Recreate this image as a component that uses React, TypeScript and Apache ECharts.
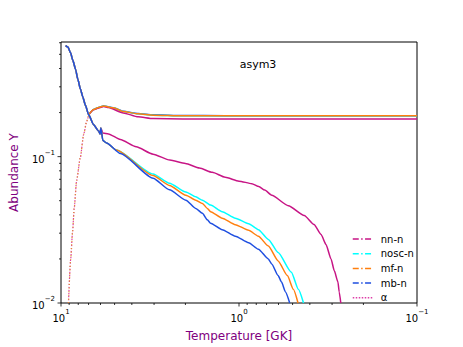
import React, { useEffect, useRef } from 'react';
import * as echarts from 'echarts';

// Temperature [GK] (x) and abundance Y (y) pairs
const neutronShared = [[9.42, 0.573], [9.14, 0.56], [8.835, 0.512], [8.58, 0.455], [8.285, 0.396], [8.05, 0.339], [7.78, 0.29], [7.55, 0.257], [7.29, 0.224], [6.99, 0.193], [6.56, 0.165], [6.15, 0.1495], [6.03, 0.143], [5.97, 0.157]];
const nnNeutronTail = [[5.82, 0.145], [5.41, 0.143], [4.64, 0.131], [3.78, 0.1167], [3.04, 0.104], [2.448, 0.0947], [2.0, 0.0898], [1.668, 0.0835], [1.413, 0.0781], [1.196, 0.0723], [1.0, 0.068], [0.847, 0.0654], [0.774, 0.0624], [0.717, 0.0591], [0.655, 0.0545], [0.528, 0.0462], [0.43, 0.0396], [0.379, 0.0344], [0.346, 0.0294], [0.3245, 0.0251], [0.304, 0.02], [0.2917, 0.01665], [0.278, 0.0139], [0.2736, 0.0119], [0.268, 0.01]];
const noscNeutronTail = [[5.82, 0.129], [5.55, 0.124], [4.89, 0.111], [3.04, 0.0761], [2.458, 0.0659], [1.988, 0.0573], [1.749, 0.0531], [1.605, 0.0504], [1.445, 0.0467], [1.243, 0.0421], [1.049, 0.038], [0.883, 0.0348], [0.778, 0.0317], [0.684, 0.0272], [0.603, 0.0221], [0.508, 0.0162], [0.464, 0.0124], [0.434, 0.01]];
const mfNeutronTail = [[5.82, 0.129], [5.55, 0.124], [4.89, 0.111], [3.04, 0.0742], [2.458, 0.0636], [1.988, 0.0545], [1.749, 0.0504], [1.605, 0.0479], [1.506, 0.0443], [1.445, 0.0421], [1.243, 0.038], [1.049, 0.0343], [0.883, 0.0314], [0.778, 0.0286], [0.684, 0.0245], [0.603, 0.0194], [0.535, 0.0154], [0.495, 0.0124], [0.466, 0.01]];
const mbNeutronTail = [[5.82, 0.129], [5.55, 0.124], [4.64, 0.105], [3.04, 0.0712], [2.458, 0.0594], [1.988, 0.0504], [1.749, 0.0443], [1.605, 0.041], [1.506, 0.037], [1.445, 0.0351], [1.243, 0.0317], [1.049, 0.0286], [0.883, 0.0258], [0.778, 0.0233], [0.684, 0.02], [0.655, 0.01846], [0.603, 0.0154], [0.577, 0.0139], [0.548, 0.0119], [0.519, 0.01]];

const alphaRise = [[9.08, 0.01], [8.82, 0.02], [8.62, 0.0301], [8.43, 0.0443], [8.17, 0.0687], [7.79, 0.0985], [7.45, 0.143], [7.17, 0.1744], [6.99, 0.193]];
const mfAlpha = [[6.99, 0.193], [6.56, 0.21], [6.15, 0.2166], [5.77, 0.2216], [5.08, 0.2156], [4.47, 0.2037], [3.69, 0.196], [3.04, 0.192], [2.07, 0.19], [0.1, 0.19]];
const noscAlpha = [[6.99, 0.193], [6.56, 0.21], [6.15, 0.2166], [5.77, 0.2216], [5.08, 0.2156], [4.47, 0.2037], [3.69, 0.196], [3.04, 0.192], [2.07, 0.19], [0.1, 0.19]];
const nnAlpha = [[6.99, 0.193], [6.56, 0.209], [6.15, 0.215], [5.77, 0.22], [5.41, 0.2165], [4.47, 0.199], [3.69, 0.187], [3.04, 0.182], [2.07, 0.181], [0.1, 0.181]];
const mbAlpha = [[6.99, 0.193], [6.56, 0.21], [6.15, 0.2166], [5.77, 0.222], [5.08, 0.216], [4.47, 0.204], [3.69, 0.197], [3.04, 0.193], [2.07, 0.191], [1.2, 0.1905], [0.1, 0.19]];

const legendNames = ['nn-n', 'nosc-n', 'mf-n', 'mb-n', 'α'];
const colors: Record<string, string> = {
  'nn-n': '#c71585',
  'nosc-n': '#00ffff',
  'mf-n': '#ff7f0e',
  'mb-n': '#1f4fe0',
  'α': '#dd3fa8',
};

const xMajorTicks = [0.1, 1, 10];
const xMinorTicks = [0.2, 0.3, 0.4, 0.5, 0.6, 0.7, 0.8, 0.9, 2, 3, 4, 5, 6, 7, 8, 9];
const yMajorTicks = [0.01, 0.1];
const yMinorTicks = [0.02, 0.03, 0.04, 0.05, 0.06, 0.07, 0.08, 0.09, 0.2, 0.3, 0.4, 0.5, 0.6];

const FONT = 'DejaVu Sans';

function powLabel(v: number) {
  const l = Math.log10(v);
  const e = Math.round(l);
  if (Math.abs(l - e) > 1e-6) return '';
  const s = e < 0 ? '\u2212' + -e : String(e);
  return '{b|10}{sup|' + s + '}';
}

const richLabel = {
  b: { fontSize: 10, lineHeight: 15, verticalAlign: 'bottom', fontFamily: FONT, color: '#000' },
  sup: { fontSize: 7, lineHeight: 9, verticalAlign: 'top', fontFamily: FONT, color: '#000' },
};

function line(name: string, data: number[][], z: number, type: any = 'solid', color?: string, width = 1.5) {
  return {
    type: 'line',
    name,
    data,
    symbol: 'none',
    showSymbol: false,
    silent: true,
    smooth: 0.2,
    smoothMonotone: 'x',
    z,
    lineStyle: { color: color || colors[name], width, type },
    itemStyle: { color: color || colors[name] },
  };
}

export default function App() {
  const ref = useRef<HTMLDivElement>(null);
  useEffect(() => {
    const chart = echarts.init(ref.current!, null, { renderer: 'svg' });
    const xTickData = [
      ...xMajorTicks.map((v) => [v, 0.01, 3.5]),
      ...xMinorTicks.map((v) => [v, 0.01, 2]),
    ];
    const yTickData = [
      ...yMajorTicks.map((v) => [10, v, 3.5]),
      ...yMinorTicks.map((v) => [10, v, 2]),
    ];
    const option: any = {
      animation: false,
      textStyle: { fontFamily: FONT },
      grid: { left: 57, top: 42, right: 46, bottom: 39, show: true, borderColor: '#000', borderWidth: 1, backgroundColor: '#fff' },
      xAxis: {
        type: 'log',
        logBase: 10,
        min: 0.1,
        max: 10,
        inverse: true,
        name: 'Temperature [GK]',
        nameLocation: 'middle',
        nameGap: 27,
        nameTextStyle: { color: '#800080', fontSize: 12, fontFamily: FONT },
        axisLine: { show: false },
        axisTick: { show: false },
        splitLine: { show: false },
        minorTick: { show: false },
        axisLabel: { formatter: powLabel, rich: richLabel, margin: 5 },
      },
      yAxis: {
        type: 'log',
        logBase: 10,
        min: 0.01,
        max: 0.607,
        name: 'Abundance Y',
        nameLocation: 'middle',
        nameGap: 41,
        nameTextStyle: { color: '#800080', fontSize: 12, fontFamily: FONT },
        axisLine: { show: false },
        axisTick: { show: false },
        splitLine: { show: false },
        axisLabel: { formatter: powLabel, rich: richLabel, margin: 6, showMaxLabel: false },
      },
      legend: {
        orient: 'vertical',
        left: 347,
        top: 229,
        itemWidth: 20,
        itemHeight: 8,
        itemGap: 4.7,
        selectedMode: false,
        itemStyle: { opacity: 0 },
        textStyle: { fontSize: 10, fontFamily: FONT, color: '#000', lineHeight: 10, padding: [0, 0, 0, 3] },
        data: legendNames.map((n) => ({
          name: n,
          itemStyle: { opacity: 0 },
          lineStyle: { type: n === 'α' ? [1.5, 1.5] : [6, 2.4, 1.5, 2.4], width: 1.5, color: colors[n] },
        })),
      },
      graphic: [
        {
          type: 'text',
          x: 258,
          y: 64,
          style: { text: 'asym3', fontSize: 11, fontFamily: FONT, fill: '#000', textAlign: 'center', textVerticalAlign: 'middle' },
        },
      ],
      series: [
        line('mb-n', mbAlpha, 2),
        line('nosc-n', noscAlpha, 2),
        line('nn-n', nnAlpha, 2),
        line('mf-n', mfAlpha, 2),
        line('α', alphaRise, 3, [1.2, 1.8], undefined, 1.2),
        line('mf-n', alphaRise, 3, [1.2, 2.4], '#e08a3a', 1.3),
        line('nn-n', [...neutronShared, ...nnNeutronTail], 4),
        line('nosc-n', [...neutronShared, ...noscNeutronTail], 4),
        line('mf-n', [...neutronShared, ...mfNeutronTail], 4),
        line('mb-n', [...neutronShared, ...mbNeutronTail], 4),
        {
          type: 'custom',
          silent: true,
          z: 10,
          clip: false,
          data: xTickData,
          renderItem: (params: any, api: any) => {
            const p = api.coord([api.value(0), api.value(1)]);
            const len = api.value(2);
            return { type: 'line', shape: { x1: p[0], y1: p[1], x2: p[0], y2: p[1] + len }, style: { stroke: '#000', lineWidth: 0.8 } };
          },
        },
        {
          type: 'custom',
          silent: true,
          z: 10,
          clip: false,
          data: yTickData,
          renderItem: (params: any, api: any) => {
            const p = api.coord([api.value(0), api.value(1)]);
            const len = api.value(2);
            return { type: 'line', shape: { x1: p[0], y1: p[1], x2: p[0] - len, y2: p[1] }, style: { stroke: '#000', lineWidth: 0.8 } };
          },
        },
      ],
    };
    chart.setOption(option);
    return () => chart.dispose();
  }, []);
  return <div ref={ref} style={{ position: 'absolute', left: 0, top: 0, width: 463, height: 347 }} />;
}
